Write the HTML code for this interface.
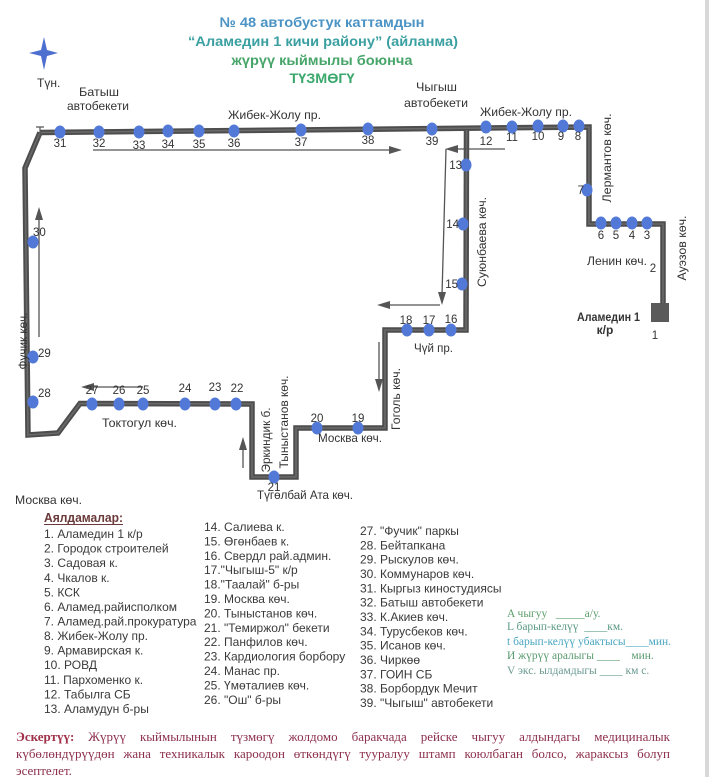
<!DOCTYPE html>
<html><head><meta charset="utf-8"><style>
html,body{margin:0;padding:0;background:#fff;}
body{width:709px;height:777px;position:relative;overflow:hidden;}
svg{position:absolute;left:0;top:0;}
.note{position:absolute;left:16px;width:654px;font-family:"Liberation Serif",serif;font-size:13px;line-height:17px;color:#8c2f4c;white-space:nowrap;}
.j{text-align:justify;text-align-last:justify;white-space:normal;}
.note b{color:#a0304a;}
</style></head><body>
<svg width="709" height="777" viewBox="0 0 709 777" xmlns="http://www.w3.org/2000/svg" font-family="'Liberation Sans', sans-serif">
<rect x="705" y="0" width="4" height="777" fill="#d8d8d8"/>
<!-- Title -->
<g font-weight="bold" font-size="14" text-anchor="middle">
<text x="322" y="27" fill="#4b93c4" textLength="205" lengthAdjust="spacingAndGlyphs">№ 48 автобустук каттамдын</text>
<text x="323" y="46" fill="#3a9fa0" textLength="270" lengthAdjust="spacingAndGlyphs">“Аламедин 1 кичи району” (айланма)</text>
<text x="322" y="65" fill="#47a56a" textLength="181" lengthAdjust="spacingAndGlyphs">жүрүү кыймылы боюнча</text>
<text x="322" y="83" fill="#3aa86c" textLength="65" lengthAdjust="spacingAndGlyphs">ТҮЗМӨГҮ</text>
</g>
<!-- compass star -->
<polygon points="44,37 47,50 58,53 47,56 44,70 41,56 29,53 41,50" fill="#4d6fcf"/>
<text x="37" y="87" font-size="12" fill="#333">Түн.</text>

<!-- route line -->
<g fill="none" stroke-linejoin="miter">
<path d="M40 132.5 L589 127 L589 224 L663 224 L663 305" stroke="#4d4d4d" stroke-width="5.5"/>
<path d="M40 132.5 L25 168 L28 435 L58 433 L80 403.5 L252 404 L252 477 L296 477 L296 428 L385 428 L385 330 L466 330 L466.5 130" stroke="#4d4d4d" stroke-width="5.5"/>
<path d="M40 132.5 L589 127 L589 224 L663 224 L663 305" stroke="#6a6a6a" stroke-width="1.6"/>
<path d="M40 132.5 L25 168 L28 435 L58 433 L80 403.5 L252 404 L252 477 L296 477 L296 428 L385 428 L385 330 L466 330 L466.5 130" stroke="#6a6a6a" stroke-width="1.6"/>
</g>
<path d="M36 127 L44 127 M40 127 L40 138" stroke="#555" stroke-width="1.2"/>
<rect x="651" y="303" width="18" height="19" fill="#5a5a5a"/>

<!-- arrows -->
<g stroke="#555" stroke-width="1.3" fill="none">
<line x1="93" y1="150" x2="392" y2="150"/>
<line x1="505" y1="149" x2="455" y2="149"/>
<line x1="446" y1="149" x2="442" y2="295"/>
<line x1="440" y1="305" x2="388" y2="305"/>
<line x1="379" y1="342" x2="379" y2="382"/>
<line x1="243" y1="468" x2="243" y2="447"/>
<line x1="143" y1="387" x2="92" y2="387"/>
<line x1="39" y1="337" x2="39" y2="217"/>
</g>
<g fill="#555">
<polygon points="402,150 389,146 389,154"/>
<polygon points="445,149 458,145 458,153"/>
<polygon points="442,305 438,292 446,292"/>
<polygon points="377,305 390,301 390,309"/>
<polygon points="379,392 375,379 383,379"/>
<polygon points="243,437 239,450 247,450"/>
<polygon points="81,387 94,383 94,391"/>
<polygon points="39,207 35,220 43,220"/>
</g>

<!-- stops -->
<g fill="#5379d8">
<ellipse cx="60" cy="132" rx="5.5" ry="6.5"/>
<ellipse cx="99" cy="132" rx="5.5" ry="6.5"/>
<ellipse cx="139" cy="132" rx="5.5" ry="6.5"/>
<ellipse cx="168" cy="131" rx="5.5" ry="6.5"/>
<ellipse cx="199" cy="131" rx="5.5" ry="6.5"/>
<ellipse cx="234" cy="131" rx="5.5" ry="6.5"/>
<ellipse cx="301" cy="130" rx="5.5" ry="6.5"/>
<ellipse cx="368" cy="129" rx="5.5" ry="6.5"/>
<ellipse cx="432" cy="129" rx="5.5" ry="6.5"/>
<ellipse cx="486" cy="127" rx="5.5" ry="6.5"/>
<ellipse cx="512" cy="127" rx="5.5" ry="6.5"/>
<ellipse cx="538" cy="126" rx="5.5" ry="6.5"/>
<ellipse cx="563" cy="126" rx="5.5" ry="6.5"/>
<ellipse cx="579" cy="126" rx="5.5" ry="6.5"/>
<ellipse cx="587" cy="190" rx="5.5" ry="6.5"/>
<ellipse cx="601" cy="223" rx="5.5" ry="6.5"/>
<ellipse cx="616" cy="223" rx="5.5" ry="6.5"/>
<ellipse cx="632" cy="223" rx="5.5" ry="6.5"/>
<ellipse cx="647" cy="223" rx="5.5" ry="6.5"/>
<ellipse cx="466" cy="165" rx="5.5" ry="6.5"/>
<ellipse cx="463" cy="224" rx="5.5" ry="6.5"/>
<ellipse cx="462" cy="284" rx="5.5" ry="6.5"/>
<ellipse cx="451" cy="330" rx="5.5" ry="6.5"/>
<ellipse cx="429" cy="330" rx="5.5" ry="6.5"/>
<ellipse cx="407" cy="330" rx="5.5" ry="6.5"/>
<ellipse cx="358" cy="428" rx="5.5" ry="6.5"/>
<ellipse cx="317" cy="428" rx="5.5" ry="6.5"/>
<ellipse cx="274" cy="477" rx="5.5" ry="6.5"/>
<ellipse cx="236" cy="404" rx="5.5" ry="6.5"/>
<ellipse cx="215" cy="404" rx="5.5" ry="6.5"/>
<ellipse cx="185" cy="404" rx="5.5" ry="6.5"/>
<ellipse cx="143" cy="404" rx="5.5" ry="6.5"/>
<ellipse cx="119" cy="404" rx="5.5" ry="6.5"/>
<ellipse cx="92" cy="404" rx="5.5" ry="6.5"/>
<ellipse cx="33" cy="402" rx="5.5" ry="6.5"/>
<ellipse cx="33" cy="357" rx="5.5" ry="6.5"/>
<ellipse cx="33" cy="242" rx="5.5" ry="6.5"/>
</g>

<!-- stop numbers -->
<g font-size="11.5" fill="#333" text-anchor="middle">
<text x="60" y="147">31</text>
<text x="99" y="147">32</text>
<text x="139" y="149">33</text>
<text x="168" y="148">34</text>
<text x="199" y="148">35</text>
<text x="234" y="147">36</text>
<text x="301" y="146">37</text>
<text x="368" y="144">38</text>
<text x="432" y="145">39</text>
<text x="486" y="145">12</text>
<text x="512" y="141">11</text>
<text x="538" y="140">10</text>
<text x="561" y="140">9</text>
<text x="578" y="140">8</text>
<text x="601" y="239">6</text>
<text x="616" y="239">5</text>
<text x="632" y="239">4</text>
<text x="647" y="239">3</text>
<text x="653" y="272">2</text>
<text x="655" y="339">1</text>
<text x="451" y="323">16</text>
<text x="429" y="324">17</text>
<text x="406" y="324">18</text>
<text x="358" y="422">19</text>
<text x="317" y="422">20</text>
<text x="274" y="491">21</text>
<text x="237" y="392">22</text>
<text x="215" y="391">23</text>
<text x="185" y="392">24</text>
<text x="143" y="394">25</text>
<text x="119" y="394">26</text>
<text x="92" y="394">27</text>
</g>
<g font-size="11.5" fill="#333">
<text x="584" y="194" text-anchor="end">7</text>
<text x="462" y="169" text-anchor="end">13</text>
<text x="459" y="228" text-anchor="end">14</text>
<text x="458" y="288" text-anchor="end">15</text>
<text x="38" y="397">28</text>
<text x="38" y="357">29</text>
<text x="33" y="236">30</text>
</g>

<!-- street labels -->
<g font-size="12" fill="#333">
<text x="79" y="96" textLength="40" lengthAdjust="spacingAndGlyphs">Батыш</text>
<text x="67" y="110" textLength="62" lengthAdjust="spacingAndGlyphs">автобекети</text>
<text x="228" y="119" textLength="93" lengthAdjust="spacingAndGlyphs">Жибек-Жолу пр.</text>
<text x="416" y="91" textLength="41" lengthAdjust="spacingAndGlyphs">Чыгыш</text>
<text x="404" y="107" textLength="64" lengthAdjust="spacingAndGlyphs">автобекети</text>
<text x="480" y="116" textLength="92" lengthAdjust="spacingAndGlyphs">Жибек-Жолу пр.</text>
<text x="587" y="265" textLength="60" lengthAdjust="spacingAndGlyphs">Ленин көч.</text>
<text x="414" y="352" textLength="39" lengthAdjust="spacingAndGlyphs">Чүй пр.</text>
<text x="102" y="427" textLength="75" lengthAdjust="spacingAndGlyphs">Токтогул  көч.</text>
<text x="318" y="442" textLength="64" lengthAdjust="spacingAndGlyphs">Москва көч.</text>
<text x="257" y="499" textLength="96" lengthAdjust="spacingAndGlyphs">Түгөлбай Ата көч.</text>
<text x="15" y="504" textLength="67" lengthAdjust="spacingAndGlyphs">Москва көч.</text>
<g text-anchor="middle">
<text transform="translate(611,158) rotate(-90)" textLength="89" lengthAdjust="spacingAndGlyphs">Лермантов көч.</text>
<text transform="translate(686,248) rotate(-90)" textLength="65" lengthAdjust="spacingAndGlyphs">Ауэзов көч.</text>
<text transform="translate(486,242) rotate(-90)" textLength="90" lengthAdjust="spacingAndGlyphs">Суюнбаева көч.</text>
<text transform="translate(27,341) rotate(-90)" textLength="57" lengthAdjust="spacingAndGlyphs">Фучик көч.</text>
<text transform="translate(270,440) rotate(-90)" textLength="65" lengthAdjust="spacingAndGlyphs">Эркиндик б.</text>
<text transform="translate(288,422) rotate(-90)" textLength="93" lengthAdjust="spacingAndGlyphs">Тыныстанов көч.</text>
<text transform="translate(400,399) rotate(-90)" textLength="62" lengthAdjust="spacingAndGlyphs">Гоголь көч.</text>
</g>
</g>
<g font-size="12" font-weight="bold" fill="#333">
<text x="577" y="321" textLength="63" lengthAdjust="spacingAndGlyphs">Аламедин 1</text>
<text x="605" y="334" text-anchor="middle">к/р</text>
</g>

<!-- legend -->
<text x="44" y="522" font-size="12.5" font-weight="bold" fill="#6b3939" textLength="79" lengthAdjust="spacingAndGlyphs">Аялдамалар:</text>
<line x1="44" y1="524.5" x2="123" y2="524.5" stroke="#6b3939" stroke-width="1"/>
<g font-size="12" fill="#3a3a3a">
<text x="44" y="538">1. Аламедин 1 к/р</text>
<text x="44" y="552.6">2. Городок строителей</text>
<text x="44" y="567.2">3. Садовая к.</text>
<text x="44" y="581.8">4. Чкалов к.</text>
<text x="44" y="596.3">5. КСК</text>
<text x="44" y="610.9">6. Аламед.райисполком</text>
<text x="44" y="625.5">7. Аламед.рай.прокуратура</text>
<text x="44" y="640.1">8. Жибек-Жолу пр.</text>
<text x="44" y="654.7">9. Армавирская к.</text>
<text x="44" y="669.2">10. РОВД</text>
<text x="44" y="683.8">11. Пархоменко к.</text>
<text x="44" y="698.4">12. Табылга СБ</text>
<text x="44" y="713">13. Аламудун б-ры</text>

<text x="204" y="531">14. Салиева к.</text>
<text x="204" y="545.4">15. Өгөнбаев к.</text>
<text x="204" y="559.8">16. Свердл рай.админ.</text>
<text x="204" y="574.2">17."Чыгыш-5" к/р</text>
<text x="204" y="588.6">18."Таалай" б-ры</text>
<text x="204" y="603">19. Москва көч.</text>
<text x="204" y="617.4">20. Тыныстанов көч.</text>
<text x="204" y="631.8">21. "Темиржол" бекети</text>
<text x="204" y="646.2">22.  Панфилов көч.</text>
<text x="204" y="660.6">23. Кардиология борбору</text>
<text x="204" y="675">24. Манас пр.</text>
<text x="204" y="689.4">25. Үмөталиев көч.</text>
<text x="204" y="703.8">26. "Ош" б-ры</text>

<text x="360" y="535">27. "Фучик" паркы</text>
<text x="360" y="549.3">28. Бейтапкана</text>
<text x="360" y="563.7">29. Рыскулов көч.</text>
<text x="360" y="578">30. Коммунаров көч.</text>
<text x="360" y="592.3">31. Кыргыз киностудиясы</text>
<text x="360" y="606.7">32. Батыш автобекети</text>
<text x="360" y="621">33. К.Акиев көч.</text>
<text x="360" y="635.3">34. Турусбеков көч.</text>
<text x="360" y="649.6">35. Исанов көч.</text>
<text x="360" y="664">36. Чиркөө</text>
<text x="360" y="678.3">37. ГОИН СБ</text>
<text x="360" y="692.6">38. Борбордук Мечит</text>
<text x="360" y="707">39. "Чыгыш" автобекети</text>
</g>

<!-- green block -->
<g font-family="'Liberation Serif', serif" font-size="11.5">
<text x="507" y="617" fill="#5c9c6a">A чыгуу &#160;&#160;_____а/у.</text>
<text x="507" y="630" fill="#5b9a86">L барып-келүү &#160;____км.</text>
<text x="507" y="645" fill="#4aa6c0">t барып-келүү убактысы____мин.</text>
<text x="507" y="659" fill="#5a9a70">И жүрүү аралыгы ____ &#160;&#160;&#160;мин.</text>
<text x="507" y="674" fill="#6a9a90">V экс. ылдамдыгы ____ км с.</text>
</g>
</svg>
<div class="note" style="top:728px;">
<div class="j"><b>Эскертүү:</b> Жүрүү кыймылынын түзмөгү жолдомо баракчада рейске чыгуу алдындагы медициналык</div>
<div class="j">күбөлөндүрүүдөн жана техникалык кароодон өткөндүгү тууралуу штамп коюлбаган болсо, жараксыз болуп</div>
<div>эсептелет.</div>
</div>
</body></html>
